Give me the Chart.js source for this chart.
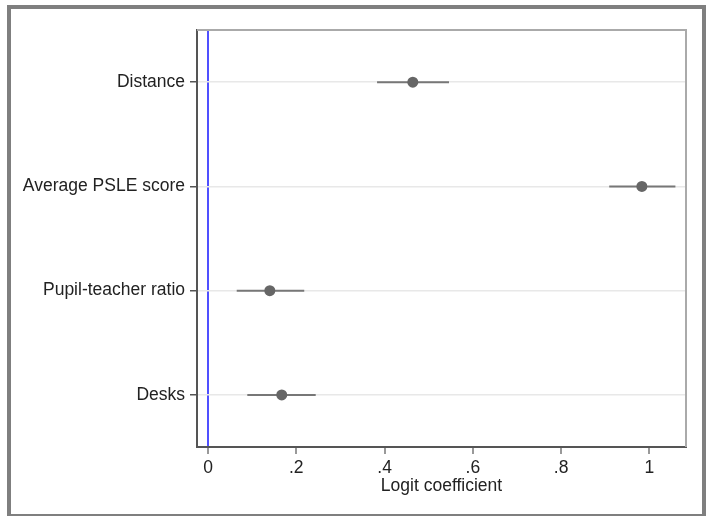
<!DOCTYPE html>
<html lang="en">
<head>
    <meta charset="UTF-8">
    <title>Logit coefficients</title>
    <script src="https://cdn.jsdelivr.net/npm/chart.js"></script>
    <style>
        body {
            margin: 0;
            background: #ffffff;
        }
        .wrap {
            position: relative;
            width: 710px;
            height: 516px;
            overflow: hidden;
        }
        .frame {
            position: absolute;
            left: 7px;
            top: 5px;
            width: 691px;
            height: 505px;
            border: 4px solid #7f7f7f;
            pointer-events: none;
        }
    </style>
</head>
<body>
    <div class="wrap">
        <canvas id="coefChart"></canvas>
        <div class="frame"></div>
    </div>

    <script>
        // rows from top to bottom
        const categories = ["Distance", "Average PSLE score", "Pupil-teacher ratio", "Desks"];
        const coef = [0.464, 0.983, 0.140, 0.167];
        const ciLow = [0.383, 0.909, 0.065, 0.089];
        const ciHigh = [0.546, 1.059, 0.218, 0.244];

        const xTicks = [0, 0.2, 0.4, 0.6, 0.8, 1];
        const xTickLabels = ["0", ".2", ".4", ".6", ".8", "1"];

        const textColor = "#222";
        const font = { family: "'Liberation Sans', Arial, sans-serif", size: 17.5 };

        const datasets = [];
        datasets.push({
            label: "coef",
            data: coef.map((v, i) => ({ x: v, y: i + 1 })),
            pointRadius: 5.5,
            pointBackgroundColor: "#666666",
            pointBorderWidth: 0,
            showLine: false,
            order: 0
        });
        for (let i = 0; i < categories.length; i++) {
            datasets.push({
                label: "ci " + categories[i],
                data: [{ x: ciLow[i], y: i + 1 }, { x: ciHigh[i], y: i + 1 }],
                showLine: true,
                borderColor: "#777777",
                borderWidth: 2,
                pointRadius: 0,
                order: 1
            });
        }

        // light frame on the top and right side of the plot region
        const plotFrame = {
            id: "plotFrame",
            afterDraw(chart) {
                const a = chart.chartArea;
                const ctx = chart.ctx;
                ctx.save();
                ctx.strokeStyle = "#aaaaaa";
                ctx.lineWidth = 2;
                ctx.beginPath();
                ctx.moveTo(a.left, a.top);
                ctx.lineTo(a.right, a.top);
                ctx.lineTo(a.right, a.bottom);
                ctx.stroke();
                ctx.restore();
            }
        };

        new Chart(document.getElementById("coefChart"), {
            type: "scatter",
            data: { datasets: datasets },
            plugins: [plotFrame],
            options: {
                responsive: true,
                maintainAspectRatio: false,
                animation: false,
                layout: { padding: { top: 30, right: 24, left: 0, bottom: 0 } },
                plugins: {
                    legend: { display: false },
                    tooltip: { enabled: false }
                },
                scales: {
                    x: {
                        type: "linear",
                        min: -0.025,
                        max: 1.083,
                        afterBuildTicks: (scale) => {
                            scale.ticks = xTicks.map(v => ({ value: v }));
                        },
                        afterFit: (scale) => { scale.height = 69; },
                        ticks: {
                            color: textColor,
                            font: font,
                            padding: 4,
                            maxRotation: 0,
                            callback: (value) => xTickLabels[xTicks.indexOf(value)]
                        },
                        grid: {
                            color: (c) => c.tick && c.tick.value === 0 ? "#5050ff" : "rgba(0,0,0,0)",
                            lineWidth: 2,
                            tickColor: "#777777",
                            tickWidth: 1.5,
                            tickLength: 7
                        },
                        border: { color: "#555555", width: 2 },
                        title: {
                            display: true,
                            text: "Logit coefficient",
                            color: textColor,
                            font: font,
                            padding: { top: 0, bottom: 19 }
                        }
                    },
                    y: {
                        type: "linear",
                        min: 0.5,
                        max: 4.5,
                        reverse: true,
                        afterBuildTicks: (scale) => {
                            scale.ticks = categories.map((c, i) => ({ value: i + 1 }));
                        },
                        afterFit: (scale) => { scale.width = 197; },
                        ticks: {
                            color: textColor,
                            font: font,
                            padding: 5,
                            callback: (value) => categories[value - 1]
                        },
                        grid: {
                            color: "#e8e8e8",
                            lineWidth: 1.5,
                            tickColor: "#555555",
                            tickWidth: 1.5,
                            tickLength: 7
                        },
                        border: { color: "#555555", width: 2 }
                    }
                }
            }
        });
    </script>
</body>
</html>
